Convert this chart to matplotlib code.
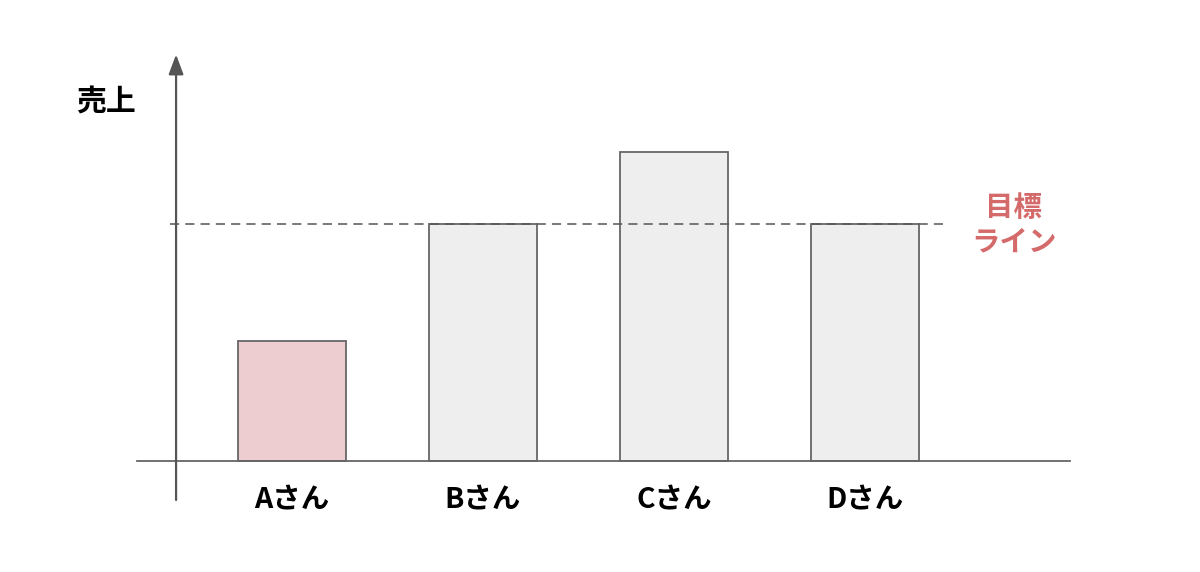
import matplotlib
matplotlib.use("Agg")
import matplotlib.pyplot as plt

plt.rcParams['font.family'] = ['Noto Sans CJK JP', 'DejaVu Sans']

# data
names = ['Aさん', 'Bさん', 'Cさん', 'Dさん']
sales = [40, 79, 103, 79]
target = 79
target_label = '目標\nライン'
y_label = '売上'

colors = ['#edcdd0', '#eeeeee', '#eeeeee', '#eeeeee']
edge = '#666666'

fig = plt.figure(figsize=(12, 5.72), dpi=100)
ax = fig.add_axes([0, 0, 1, 1])
# 1 x unit = 191 px, 1 y unit = 3 px
ax.set_xlim(-292 / 191, (1200 - 292) / 191)
ax.set_ylim(-(572 - 461) / 3, 461 / 3)
ax.axis('off')

x = list(range(len(names)))
ax.bar(x, sales, width=0.57, color=colors, edgecolor=edge, linewidth=1.3, zorder=2)

# axes lines
ax.plot([-0.812, 4.073], [0, 0], color=edge, lw=1.3, zorder=3)
ax.annotate('', xy=(-0.607, 135.5), xytext=(-0.607, -13),
            arrowprops=dict(arrowstyle='-|>,head_length=1.2,head_width=0.45',
                            color='#555555', lw=1.6, shrinkA=0, shrinkB=0))

# target line
ax.plot([-0.639, 3.408], [target, target], color='#555555', lw=1.1,
        dashes=(6, 4), zorder=3)
ax.text(3.78, target - 0.5, target_label, color='#d46a6a', fontsize=20.5,
        fontweight='bold', ha='center', va='center', linespacing=1.3)

ax.text(-0.976, 119.5, y_label, fontsize=21.5, fontweight='bold',
        ha='center', va='center')

for xi, n in zip(x, names):
    ax.text(xi, -13.2, n, fontsize=20.5, fontweight='bold', ha='center', va='center')

fig.savefig('out.png', dpi=100)
